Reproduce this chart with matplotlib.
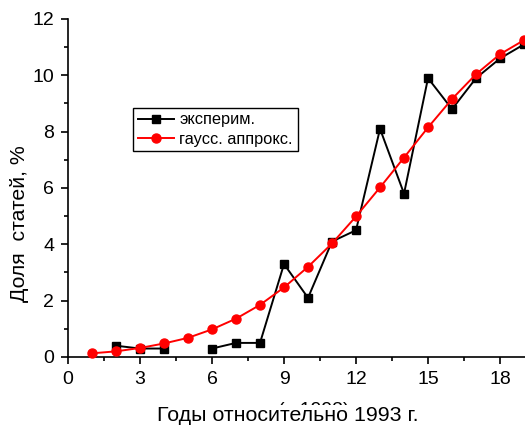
import numpy as np
import matplotlib.pyplot as plt
from matplotlib.ticker import MultipleLocator

plt.rcParams['font.family'] = ['Liberation Sans', 'DejaVu Sans']

years = np.arange(1, 20)
# experimental share of papers, no data for year 1 and year 5
exp_share = [np.nan, 0.4, 0.3, 0.3, np.nan, 0.3, 0.5, 0.5, 3.3, 2.1,
             4.1, 4.5, 8.1, 5.8, 9.9, 8.8, 9.9, 10.6, 11.1]
# gaussian approximation
gauss_share = [0.13, 0.2, 0.32, 0.48, 0.68, 0.98, 1.36, 1.85, 2.47, 3.2,
               4.03, 4.99, 6.02, 7.08, 8.15, 9.16, 10.04, 10.75, 11.25]

fig = plt.figure(figsize=(5.25, 4.26), dpi=100)
ax = fig.add_axes([0.1295, 0.162, 0.8705, 0.7934])

ax.plot(years, exp_share, color='black', lw=1.4, marker='s', ms=5.5,
        label='эксперим.', clip_on=False, zorder=3)
ax.plot(years, gauss_share, color='red', lw=1.4, marker='o', ms=6.5,
        label='гаусс. аппрокс.', clip_on=False, zorder=4)

ax.set_xlim(0, 19.04)
ax.set_ylim(0, 12)
ax.xaxis.set_major_locator(MultipleLocator(3))
ax.xaxis.set_minor_locator(MultipleLocator(1.5))
ax.yaxis.set_major_locator(MultipleLocator(2))
ax.yaxis.set_minor_locator(MultipleLocator(1))
ax.tick_params(which='major', direction='out', length=5, width=1.2,
               labelsize=14, pad=5)
ax.tick_params(which='minor', direction='out', length=3, width=1.2)
for side in ['top', 'right']:
    ax.spines[side].set_visible(False)
for side in ['left', 'bottom']:
    ax.spines[side].set_linewidth(1.2)

ax.legend(loc='upper left', bbox_to_anchor=(0.143, 0.738), fontsize=11.8,
          frameon=True, fancybox=False, edgecolor='black', framealpha=1,
          handlelength=2.2, handletextpad=0.3, borderpad=0.3,
          labelspacing=0.25, borderaxespad=0)

fig.text(0.038, 0.475, 'Доля  статей, %', rotation=90, fontsize=15.3,
         ha='center', va='center')
# leftover caption line, mostly hidden under the axis label
fig.text(0.598, 0.026, '(с 1993)', fontsize=14, ha='center', va='baseline')
fig.text(0.549, 0.0117, 'Годы относительно 1993 г.', fontsize=15.4,
         ha='center', va='baseline',
         bbox=dict(facecolor='white', edgecolor='none', pad=1))

fig.savefig('out.png', dpi=100)
